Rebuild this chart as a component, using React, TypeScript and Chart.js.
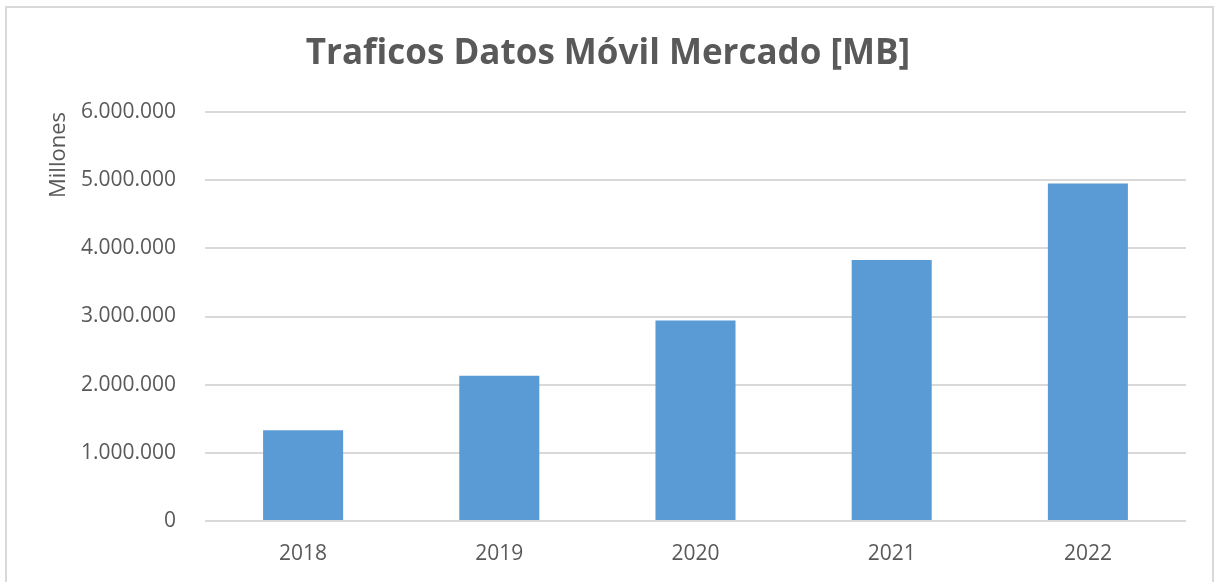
import React, { useEffect, useRef } from "react";
import { Chart, registerables } from "chart.js";

Chart.register(...registerables);

const titleText = "Traficos Datos Móvil Mercado [MB]";
const yAxisTitle = "Millones";
const years = ["2018", "2019", "2020", "2021", "2022"];
const traffic = [1330000, 2130000, 2940000, 3830000, 4950000];
const yMin = 0;
const yMax = 6000000;
const yStep = 1000000;

const FONT = "'Open Sans', 'DejaVu Sans', sans-serif";
const TEXT = "#595959";
const GRID = "#d9d9d9";
const BAR = "#5B9BD5";

function fmt(v: number): string {
  return String(Math.round(v)).replace(/\B(?=(\d{3})+(?!\d))/g, ".");
}

export default function App() {
  const ref = useRef<HTMLCanvasElement | null>(null);

  useEffect(() => {
    if (!ref.current) return;
    const chart = new Chart(ref.current, {
      type: "bar",
      data: {
        labels: years,
        datasets: [
          {
            data: traffic,
            backgroundColor: BAR,
            borderWidth: 0,
            barPercentage: 1,
            categoryPercentage: 0.408,
          },
        ],
      },
      options: {
        responsive: false,
        animation: false,
        layout: { padding: { left: 30, right: 30, top: 0, bottom: 0 } },
        plugins: {
          legend: { display: false },
          tooltip: { enabled: false },
          title: {
            display: true,
            text: titleText,
            color: TEXT,
            font: { family: FONT, size: 35, weight: "bold", lineHeight: 1.2 },
            padding: { top: 33, bottom: 37 },
          },
        },
        scales: {
          x: {
            grid: { display: false, drawTicks: false },
            border: { display: false },
            ticks: {
              color: TEXT,
              font: { family: FONT, size: 21 },
              padding: 20,
              maxRotation: 0,
            },
            afterFit: (s: any) => {
              s.height = 61;
            },
          },
          y: {
            min: yMin,
            max: yMax,
            grid: { color: GRID, lineWidth: 2, drawTicks: false },
            border: { display: false },
            ticks: {
              stepSize: yStep,
              color: TEXT,
              font: { family: FONT, size: 21 },
              padding: 29,
              callback: (v: any) => fmt(Number(v)),
            },
            title: {
              display: true,
              text: yAxisTitle,
              color: TEXT,
              align: "end",
              font: { family: FONT, size: 22, lineHeight: 1.2 },
              padding: { top: 15.8, bottom: 0 },
            },
            afterFit: (s: any) => {
              s.width = 175;
            },
          },
        },
      } as any,
    });
    return () => chart.destroy();
  }, []);

  return (
    <div
      style={{
        position: "absolute",
        left: 0,
        top: 0,
        width: 1216,
        height: 582,
        background: "#fff",
        overflow: "hidden",
      }}
    >
      <canvas ref={ref} width={1216} height={582} style={{ position: "absolute", left: 0, top: 0 }} />
      <div
        style={{
          position: "absolute",
          left: 5,
          top: 6,
          width: 1205,
          height: 600,
          border: "2px solid #d9d9d9",
          pointerEvents: "none",
        }}
      />
    </div>
  );
}
